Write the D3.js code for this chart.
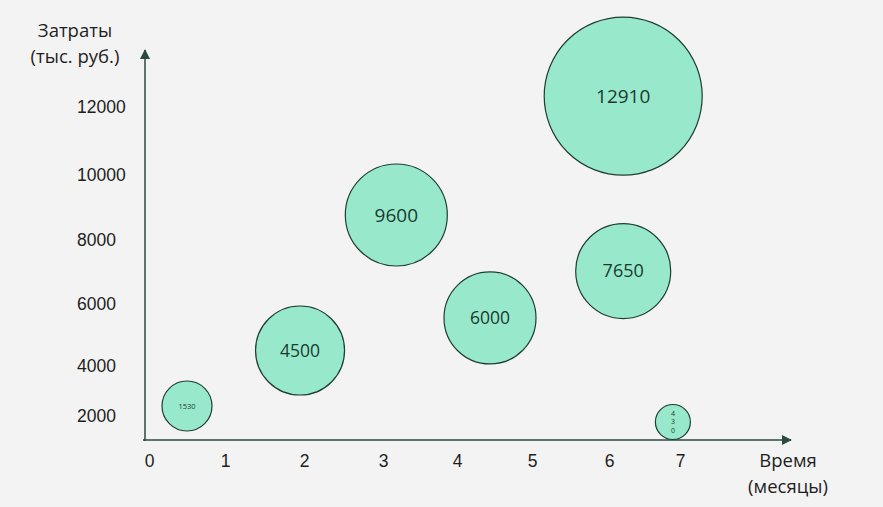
<!DOCTYPE html>
<html><head><meta charset="utf-8">
<script src="https://cdn.jsdelivr.net/npm/d3@7"></script>
<style>
html,body{margin:0;padding:0;background:#f3f3f3;}
svg{display:block;font-family:"Open Sans","Noto Sans",sans-serif;}
</style></head>
<body>
<svg id="chart" width="883" height="507"></svg>
<script>
// ---- data ----
const xTicks = [0, 1, 2, 3, 4, 5, 6, 7];
const yTicks = [2000, 4000, 6000, 8000, 10000, 12000];
const bubbleLabels = ["1530", "4500", "9600", "6000", "12910", "7650", "430"];
const bubbleMonths = [0.5, 1.95, 3.18, 4.44, 6.2, 6.2, 6.9];
const bubbleCosts  = [2400, 4500, 8770, 5550, 12320, 7030, 1760];
const bubbleWeight = [625, 1980, 2601, 2116, 6241, 2256, 306];
const yTitle = ["Затраты", "(тыс. руб.)"];
const xTitle = ["Время", "(месяцы)"];

const svg = d3.select("#chart");
const axisColor = "#2b4a42";
const textColor = "#1e1e1e";
const fill = "#98e9cc";
const stroke = "#1f3d33";

// scales (piecewise to follow the reference's tick spacing)
const x = d3.scaleLinear().domain(xTicks).range([149, 225, 304, 383, 457, 532, 609, 680]);
const y = d3.scaleLinear().domain(yTicks).range([416, 366, 304, 240, 175, 107]);
const r = d3.scaleSqrt().domain([0, d3.max(bubbleWeight)]).range([0, 79]);

const x0 = 145, yBase = 440;

// arrow marker
const defs = svg.append("defs");
defs.append("marker").attr("id", "arrow").attr("viewBox", "0 0 10 10")
  .attr("refX", 9).attr("refY", 5).attr("markerWidth", 10).attr("markerHeight", 10)
  .attr("markerUnits", "userSpaceOnUse").attr("orient", "auto")
  .append("path").attr("d", "M0,0 L10,5 L0,10 Z").attr("fill", axisColor);

// axis lines
svg.append("line").attr("x1", x0).attr("y1", yBase + 1).attr("x2", x0).attr("y2", 50)
  .attr("stroke", axisColor).attr("stroke-width", 1.5).attr("marker-end", "url(#arrow)");
svg.append("line").attr("x1", x0 - 2).attr("y1", yBase).attr("x2", 791).attr("y2", yBase)
  .attr("stroke", axisColor).attr("stroke-width", 1.5).attr("marker-end", "url(#arrow)");

// y tick labels
const gy = svg.append("g").attr("transform", `translate(${x0},0)`)
  .call(d3.axisLeft(y).tickValues(yTicks).tickSize(0).tickFormat(d3.format("d")));
gy.select(".domain").remove();
gy.selectAll("text").attr("x", 77 - x0).attr("text-anchor", "start")
  .attr("font-size", 17.5).attr("fill", textColor).attr("font-family", null);

// x tick labels
const gx = svg.append("g").attr("transform", `translate(0,${yBase})`)
  .call(d3.axisBottom(x).tickValues(xTicks).tickSize(0).tickFormat(d3.format("d")));
gx.select(".domain").remove();
gx.selectAll("text").attr("y", 21).attr("dy", "0.35em")
  .attr("font-size", 17.5).attr("fill", textColor).attr("font-family", null);

// titles
svg.append("g").selectAll("text").data(yTitle).join("text")
  .attr("x", 75).attr("y", (d, i) => 31 + i * 25.5).attr("dy", "0.35em")
  .attr("text-anchor", "middle").attr("font-size", 18.5).attr("fill", textColor).text(d => d);
svg.append("g").selectAll("text").data(xTitle).join("text")
  .attr("x", 788).attr("y", (d, i) => 461 + i * 25.5).attr("dy", "0.35em")
  .attr("text-anchor", "middle").attr("font-size", 18.5).attr("fill", textColor).text(d => d);

// bubbles
const data = bubbleLabels.map((l, i) => ({label: l, m: bubbleMonths[i], c: bubbleCosts[i], w: bubbleWeight[i]}));
const g = svg.append("g");
g.selectAll("circle").data(data).join("circle")
  .attr("cx", d => x(d.m)).attr("cy", d => y(d.c)).attr("r", d => r(d.w))
  .attr("fill", fill).attr("stroke", stroke).attr("stroke-width", 1.2);

const fontFor = d => d.w < 400 ? 7 : d.w < 1000 ? 7.5 : d.w > 5000 ? 19 : d.w > 2500 ? 19 : d.w > 2200 ? 18 : 17.5;
data.forEach(d => {
  const cx = x(d.m), cy = y(d.c), fs = fontFor(d);
  if (d.w < 400) {
    // tiny bubble: digits stacked vertically
    const chars = d.label.split("");
    g.append("g").selectAll("text").data(chars).join("text")
      .attr("x", cx).attr("y", (c, i) => cy + (i - (chars.length - 1) / 2) * 8.5)
      .attr("dy", "0.35em").attr("text-anchor", "middle").attr("font-size", fs)
      .attr("fill", "#1a3a30").text(c => c);
  } else {
    g.append("text").attr("x", cx).attr("y", cy).attr("dy", "0.35em")
      .attr("text-anchor", "middle").attr("font-size", fs)
      .attr("fill", "#1a3a30").text(d.label);
  }
});
</script>
</body></html>
